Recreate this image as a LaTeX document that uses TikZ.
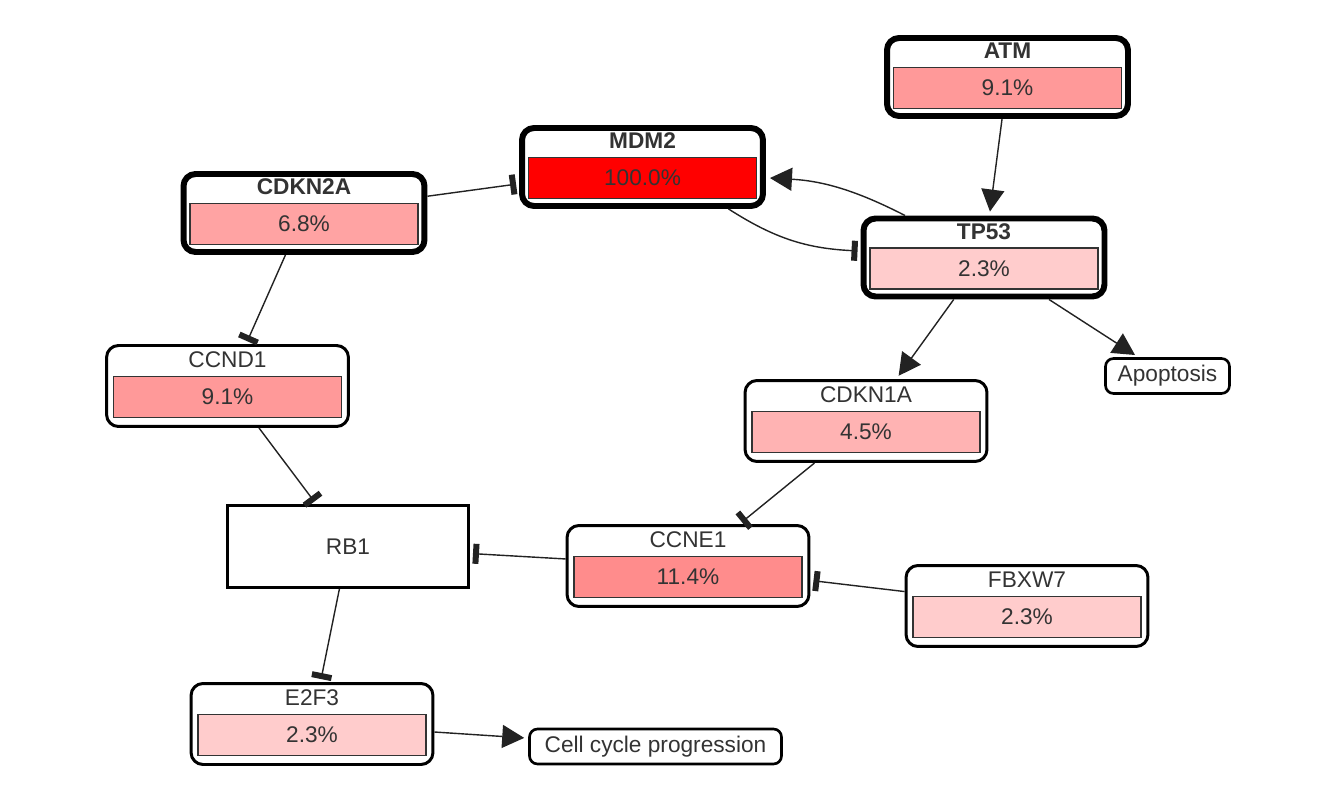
\documentclass[tikz,border=0pt]{standalone}
\usepackage{fontspec}
\setmainfont{Liberation Sans}
\usetikzlibrary{calc,arrows.meta,positioning}

\begin{document}
\begin{tikzpicture}[
    x=0.02cm, y=-0.02cm,
    every node/.style={font=\fontsize{12.9}{15}\selectfont, text=textgrey},
    genebox/.style={draw=black, fill=white, rounded corners=0.24cm, line width=1.7pt,
      minimum width=4.84cm, minimum height=1.62cm},
    corebox/.style={genebox, line width=3.4pt, minimum width=4.82cm, minimum height=1.56cm},
    plainbox/.style={draw=black, fill=white, line width=1.7pt,
      minimum width=4.82cm, minimum height=1.64cm},
    genebar/.style={draw=bardark, line width=0.8pt, inner sep=0pt,
      minimum width=4.56cm, minimum height=0.82cm},
    outcome/.style={draw=black, fill=white, rounded corners=0.16cm, line width=1.5pt,
      minimum height=0.7cm, inner xsep=0.2cm},
    conn/.style={draw=conncolor, line width=0.8pt},
    activate/.style={conn, -{Triangle[length=0.44cm,width=0.46cm]}, shorten >=0.08cm},
    inhibit/.style={conn, -{Rectangle[length=0.12cm,width=0.4cm]}, shorten >=0.06cm},
  ]
    \definecolor{textgrey}{HTML}{333333}
    \definecolor{bardark}{HTML}{333333}
    \definecolor{conncolor}{HTML}{222222}
    \definecolor{pctfull}{HTML}{FF0000}
    \definecolor{pcteleven}{HTML}{FF8C8C}
    \definecolor{pctnine}{HTML}{FF9999}
    \definecolor{pctsix}{HTML}{FFA3A3}
    \definecolor{pctfour}{HTML}{FFB3B3}
    \definecolor{pcttwo}{HTML}{FFCCCC}

    \useasboundingbox (0,0) rectangle (1336,800);

    \newcommand{\gene}[6][genebox]{%
      \node[#1] (#2) at (#3) {};
      \node (#2-name) at ($(#2)+(0,-26)$) {#4};
      \node[genebar, fill=#6] (#2-pct) at ($(#2)+(0,11)$) {#5};
    }

    % ============ genes ============
    \gene[corebox]{atm}{1007.5,77}{\bfseries ATM}{9.1\%}{pctnine}
    \gene[corebox]{mdm2}{642.5,167}{\bfseries MDM2}{100.0\%}{pctfull}
    \gene[corebox]{cdkn2a}{304,213}{\bfseries CDKN2A}{6.8\%}{pctsix}
    \gene[corebox]{tp53}{984,257.5}{\bfseries TP53}{2.3\%}{pcttwo}
    \gene{ccnd1}{227.5,386}{CCND1}{9.1\%}{pctnine}
    \gene{cdkn1a}{866,421}{CDKN1A}{4.5\%}{pctfour}
    \gene{ccne1}{688,566}{CCNE1}{11.4\%}{pcteleven}
    \gene{fbxw7}{1027,606}{FBXW7}{2.3\%}{pcttwo}
    \gene{e2f3}{312,724}{E2F3}{2.3\%}{pcttwo}
    \node[plainbox] (rb1) at (348,546.5) {RB1};

    % ============ outcomes ============
    \node[outcome, minimum width=2.48cm] (apoptosis) at (1167.5,376) {Apoptosis};
    \node[outcome, minimum width=5.04cm] (cellcycle) at (655.5,746.5) {Cell cycle progression};

    % ============ edges ============
    \draw[activate] (atm) -- (tp53);
    \draw[activate] (tp53.152) to[bend right=12] (mdm2.-5);
    \draw[inhibit] (mdm2.-26) to[bend right=15] (tp53.177);
    \draw[inhibit] (cdkn2a) -- (mdm2);
    \draw[inhibit] (cdkn2a) -- (ccnd1);
    \draw[activate] (tp53) -- (cdkn1a);
    \draw[activate] (tp53) -- (apoptosis);
    \draw[inhibit] (ccnd1) -- (rb1);
    \draw[inhibit] (cdkn1a) -- (ccne1);
    \draw[inhibit] (ccne1) -- (rb1);
    \draw[inhibit] (fbxw7) -- (ccne1);
    \draw[inhibit] (rb1) -- (e2f3);
    \draw[activate] (e2f3) -- (cellcycle);
  \end{tikzpicture}
\end{document}
